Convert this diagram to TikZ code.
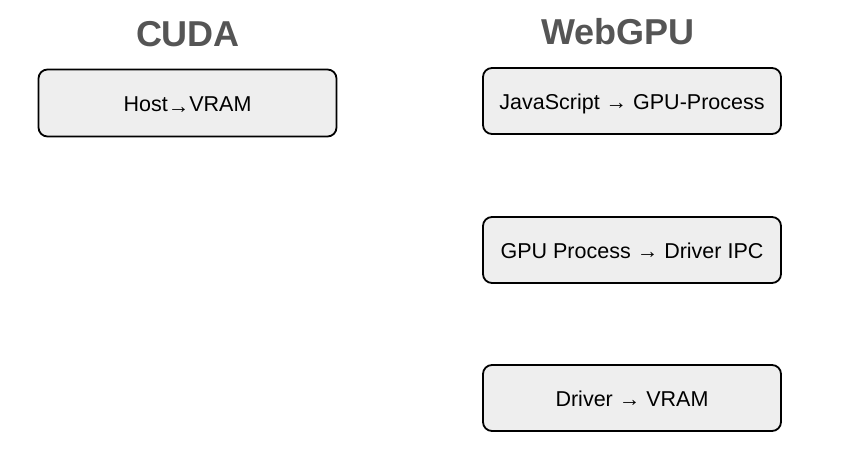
\documentclass[tikz,border=0pt]{standalone}
\usepackage{fontspec}
\setmainfont{Liberation Sans}
\newcommand{\arr}{→}
\newcommand{\lowarr}{\raisebox{-2.5pt}{→}}
\begin{document}
\begin{tikzpicture}[x=1pt,y=-1pt,
  box/.style={draw=black,line width=1.8pt,rounded corners=9pt,fill=boxgray,minimum width=298pt,minimum height=66pt,inner sep=0pt,text height=16pt,text depth=0pt,font=\fontsize{21.5}{24}\selectfont},
  title/.style={text=titlegray,font=\fontsize{36}{40}\selectfont\bfseries,inner sep=0pt}]
\definecolor{boxgray}{HTML}{EEEEEE}
\definecolor{titlegray}{HTML}{555555}
\useasboundingbox (0,0) rectangle (868,467);
\node[title] (t1) at (188,34) {CUDA};
\node[title] (t2) at (618,32) {WebGPU};
\node[box,minimum height=67pt] (c1) at (187.5,103) {Host\lowarr VRAM};
\node[box] (w1) at (632,101) {JavaScript \arr\ GPU-Process};
\node[box] (w2) at (632,250) {GPU Process \arr\ Driver IPC};
\node[box] (w3) at (632,398) {Driver \arr\ VRAM};
\end{tikzpicture}
\end{document}
